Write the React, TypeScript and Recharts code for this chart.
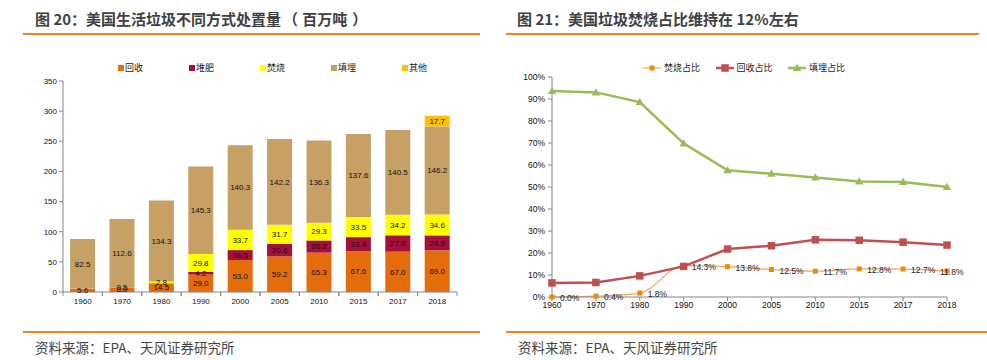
import React from 'react';
import { BarChart, Bar, XAxis, YAxis, LabelList, Legend, LineChart, Line } from 'recharts';

// ---- Data: left chart (百万吨) ----
const years = ['1960', '1970', '1980', '1990', '2000', '2005', '2010', '2015', '2017', '2018'];
const recycle = [5.6, 8.0, 14.5, 29.0, 53.0, 59.2, 65.3, 67.6, 67.0, 69.0];
const compost = [0, 0, 0, 4.2, 16.5, 20.6, 20.2, 23.4, 27.0, 24.9];
const combust = [0, 0.5, 2.8, 29.8, 33.7, 31.7, 29.3, 33.5, 34.2, 34.6];
const landfill = [82.5, 112.6, 134.3, 145.3, 140.3, 142.2, 136.3, 137.6, 140.5, 146.2];
const other = [0, 0, 0, 0, 0, 0, 0, 0, 0, 17.7];
const barTicks = [0, 50, 100, 150, 200, 250, 300, 350];
const barOrder = ['recycle', 'compost', 'combust', 'landfill', 'other'];

// ---- Data: right chart (%) ----
const incinPct = [0.0, 0.4, 1.8, 14.3, 13.8, 12.5, 11.7, 12.8, 12.7, 11.8];
const recyclePct = [6.4, 6.6, 9.6, 13.9, 21.8, 23.3, 26.0, 25.8, 24.9, 23.6];
const landfillPct = [93.6, 93.0, 88.6, 69.8, 57.6, 56.0, 54.3, 52.5, 52.3, 50.0];
const pctTicks = [0, 10, 20, 30, 40, 50, 60, 70, 80, 90, 100];
const lineOrder = ['incin', 'rec', 'land'];

const barData = years.map((y, i) => ({
  year: y,
  recycle: recycle[i],
  compost: compost[i],
  combust: combust[i],
  landfill: landfill[i],
  other: other[i],
}));

const lineData = years.map((y, i) => ({
  year: y,
  incin: incinPct[i],
  rec: recyclePct[i],
  land: landfillPct[i],
}));

const AXIS = '#868686';
const LATIN = '"Liberation Sans", Arial, sans-serif';
const CJK = '"Noto Sans CJK SC", "Noto Sans", sans-serif';
const ORANGE_RULE = '#F5821F';

const C_RECYCLE = '#E46C0A';
const C_COMPOST = '#A50F3A';
const C_COMBUST = '#FFFF00';
const C_LANDFILL = '#C6A064';
const C_OTHER = '#FFC000';

const C_INCIN_LINE = '#F6A25E';
const C_INCIN_DOT = '#F08A00';
const C_REC = '#C0504D';
const C_LAND = '#9BBB59';

// layout constants
const L_W = 480;
const L_H = 320;
const L_MR = 23;
const L_YW = 63;
const BAND_HALF = (L_W - L_MR - L_YW) / years.length / 2;

const R_W = 497;
const R_H = 320;

const fmtBar = (v: any) => (v ? Number(v).toFixed(1) : '');

const sortBy = (payload: any[], order: string[]) =>
  [...(payload || [])].sort((a, b) => order.indexOf(a.dataKey) - order.indexOf(b.dataKey));

const BarXTick = (props: any) => {
  const { x, y, payload } = props;
  const axisY = y - 6;
  return (
    <g>
      <line x1={x - BAND_HALF} x2={x - BAND_HALF} y1={axisY} y2={axisY + 4} stroke={AXIS} />
      <line x1={x + BAND_HALF} x2={x + BAND_HALF} y1={axisY} y2={axisY + 4} stroke={AXIS} />
      <text x={x} y={y} dy="0.71em" textAnchor="middle" fontSize={8} fill="#111" fontFamily={LATIN}>
        {payload.value}
      </text>
    </g>
  );
};

const BarLegend = (props: any) => {
  const items = sortBy(props.payload, barOrder);
  return (
    <div style={{ display: 'flex', alignItems: 'center', height: 14 }}>
      {items.map((p: any) => (
        <div key={p.value} style={{ width: 71, display: 'flex', alignItems: 'center' }}>
          <span style={{ width: 6, height: 6, background: p.color, display: 'inline-block', marginRight: 1 }} />
          <span style={{ fontSize: 9, fontFamily: CJK, color: '#222', lineHeight: '14px' }}>{p.value}</span>
        </div>
      ))}
    </div>
  );
};

const markerFor = (key: string, cx: number, cy: number) => {
  if (key === 'incin') return <rect x={cx - 2.5} y={cy - 2.5} width={5} height={5} fill={C_INCIN_DOT} />;
  if (key === 'rec') return <rect x={cx - 3.75} y={cy - 3.75} width={7.5} height={7.5} fill={C_REC} />;
  return <polygon points={`${cx},${cy - 4.2} ${cx + 4.2},${cy + 3} ${cx - 4.2},${cy + 3}`} fill={C_LAND} />;
};

const LineLegend = (props: any) => {
  const items = sortBy(props.payload, lineOrder);
  return (
    <div style={{ display: 'flex', alignItems: 'center', height: 14 }}>
      {items.map((p: any) => {
        const key = p.dataKey;
        const sw = key === 'incin' ? 1.2 : 2.5;
        return (
          <div key={p.value} style={{ width: 72.5, display: 'flex', alignItems: 'center' }}>
            <svg width={18} height={10} style={{ marginRight: 3, overflow: 'visible' }}>
              <line x1={0} x2={18} y1={5} y2={5} stroke={key === 'incin' ? C_INCIN_LINE : p.color} strokeWidth={sw} />
              {markerFor(key, 9, 5)}
            </svg>
            <span style={{ fontSize: 9, fontFamily: CJK, color: '#222', lineHeight: '14px' }}>{p.value}</span>
          </div>
        );
      })}
    </div>
  );
};

const mkDot = (key: string) => (props: any) => {
  const { cx, cy, index } = props;
  if (cx == null || cy == null) return <g key={`${key}-${index}`} />;
  return <g key={`${key}-${index}`}>{markerFor(key, cx, cy)}</g>;
};

const IncinLabel = (props: any) => {
  const { x, y, value, index } = props;
  const last = index === years.length - 1;
  return (
    <text
      x={last ? x - 7 : x + 8}
      y={y + 1}
      dominantBaseline="central"
      fontSize={8.5}
      fill="#1a1a2e"
      fontFamily={LATIN}
    >
      {Number(value).toFixed(1) + '%'}
    </text>
  );
};

const titleStyle: any = {
  position: 'absolute',
  top: 8,
  fontFamily: CJK,
  fontWeight: 700,
  fontSize: 15,
  lineHeight: '22px',
  color: '#3F3F3F',
  whiteSpace: 'nowrap',
};

const footStyle: any = {
  position: 'absolute',
  top: 337,
  fontFamily: CJK,
  fontSize: 13.5,
  lineHeight: '20px',
  color: '#454545',
  whiteSpace: 'nowrap',
};

export default function App() {
  return (
    <div style={{ position: 'absolute', left: 0, top: 0, width: 987, height: 360, background: '#fff', overflow: 'hidden' }}>
      {/* titles */}
      <div style={{ ...titleStyle, left: 35 }}>
        图 20：美国生活垃圾不同方式处置量<span style={{ marginLeft: 2, marginRight: 4 }}>（</span>百万吨<span style={{ marginLeft: 5 }}>）</span>
      </div>
      <div style={{ position: 'absolute', left: 23, top: 33, width: 457, height: 2, background: ORANGE_RULE }} />
      <div style={{ ...titleStyle, left: 517 }}>图 21：美国垃圾焚烧占比维持在 12%左右</div>
      <div style={{ position: 'absolute', left: 506, top: 33, width: 473, height: 2, background: ORANGE_RULE }} />

      {/* left chart */}
      <div style={{ position: 'absolute', left: 0, top: 0 }}>
        <BarChart
          width={L_W}
          height={L_H}
          data={barData}
          margin={{ top: 81, right: L_MR, bottom: 8, left: 0 }}
          barCategoryGap="18%"
        >
          <XAxis
            dataKey="year"
            height={20}
            stroke={AXIS}
            tickLine={false}
            tickSize={4}
            tickMargin={2}
            tick={<BarXTick />}
            interval={0}
          />
          <YAxis
            width={L_YW}
            domain={[0, 350]}
            ticks={barTicks}
            stroke={AXIS}
            tickSize={4}
            tickMargin={2}
            tick={{ fontSize: 8, fill: '#111', fontFamily: LATIN }}
            interval={0}
          />
          <Legend
            verticalAlign="middle"
            layout="horizontal"
            wrapperStyle={{ top: 61, left: 118, width: 360 }}
            content={<BarLegend />}
          />
          <Bar dataKey="recycle" name="回收" stackId="s" fill={C_RECYCLE} isAnimationActive={false}>
            <LabelList dataKey="recycle" position="center" formatter={fmtBar} fontSize={8} fill="#111" fontFamily={LATIN} />
          </Bar>
          <Bar dataKey="compost" name="堆肥" stackId="s" fill={C_COMPOST} isAnimationActive={false}>
            <LabelList dataKey="compost" position="center" formatter={fmtBar} fontSize={8} fill="#111" fontFamily={LATIN} />
          </Bar>
          <Bar dataKey="combust" name="焚烧" stackId="s" fill={C_COMBUST} isAnimationActive={false}>
            <LabelList dataKey="combust" position="center" formatter={fmtBar} fontSize={8} fill="#111" fontFamily={LATIN} />
          </Bar>
          <Bar dataKey="landfill" name="填埋" stackId="s" fill={C_LANDFILL} isAnimationActive={false}>
            <LabelList dataKey="landfill" position="center" formatter={fmtBar} fontSize={8} fill="#111" fontFamily={LATIN} />
          </Bar>
          <Bar dataKey="other" name="其他" stackId="s" fill={C_OTHER} isAnimationActive={false}>
            <LabelList dataKey="other" position="center" formatter={fmtBar} fontSize={8} fill="#111" fontFamily={LATIN} />
          </Bar>
        </BarChart>
      </div>

      {/* right chart */}
      <div style={{ position: 'absolute', left: 490, top: 0 }}>
        <LineChart
          width={R_W}
          height={R_H}
          data={lineData}
          margin={{ top: 77, right: 40, bottom: 3, left: 0 }}
        >
          <XAxis
            dataKey="year"
            height={20}
            stroke={AXIS}
            tickSize={4}
            tickMargin={1}
            interval={0}
            tick={{ fontSize: 8.5, fill: '#111', fontFamily: LATIN }}
          />
          <YAxis
            width={62}
            domain={[0, 100]}
            ticks={pctTicks}
            stroke={AXIS}
            tickSize={4}
            tickMargin={3}
            interval={0}
            tickFormatter={(v: any) => `${v}%`}
            tick={{ fontSize: 8.5, fill: '#111', fontFamily: LATIN }}
          />
          <Legend
            verticalAlign="middle"
            layout="horizontal"
            wrapperStyle={{ top: 61, left: 153, width: 260 }}
            content={<LineLegend />}
          />
          <Line
            dataKey="incin"
            name="焚烧占比"
            type="monotone"
            stroke={C_INCIN_LINE}
            strokeWidth={1.2}
            dot={mkDot('incin')}
            activeDot={false}
            isAnimationActive={false}
          >
            <LabelList dataKey="incin" content={<IncinLabel />} />
          </Line>
          <Line
            dataKey="rec"
            name="回收占比"
            type="linear"
            stroke={C_REC}
            strokeWidth={2.5}
            dot={mkDot('rec')}
            activeDot={false}
            isAnimationActive={false}
          />
          <Line
            dataKey="land"
            name="填埋占比"
            type="linear"
            stroke={C_LAND}
            strokeWidth={2.5}
            dot={mkDot('land')}
            activeDot={false}
            isAnimationActive={false}
          />
        </LineChart>
      </div>

      {/* footers */}
      <div style={{ position: 'absolute', left: 23, top: 331, width: 457, height: 2, background: ORANGE_RULE }} />
      <div style={{ ...footStyle, left: 35 }}>资料来源：EPA、天风证券研究所</div>
      <div style={{ position: 'absolute', left: 506, top: 331, width: 481, height: 2, background: ORANGE_RULE }} />
      <div style={{ ...footStyle, left: 518 }}>资料来源：EPA、天风证券研究所</div>
    </div>
  );
}
